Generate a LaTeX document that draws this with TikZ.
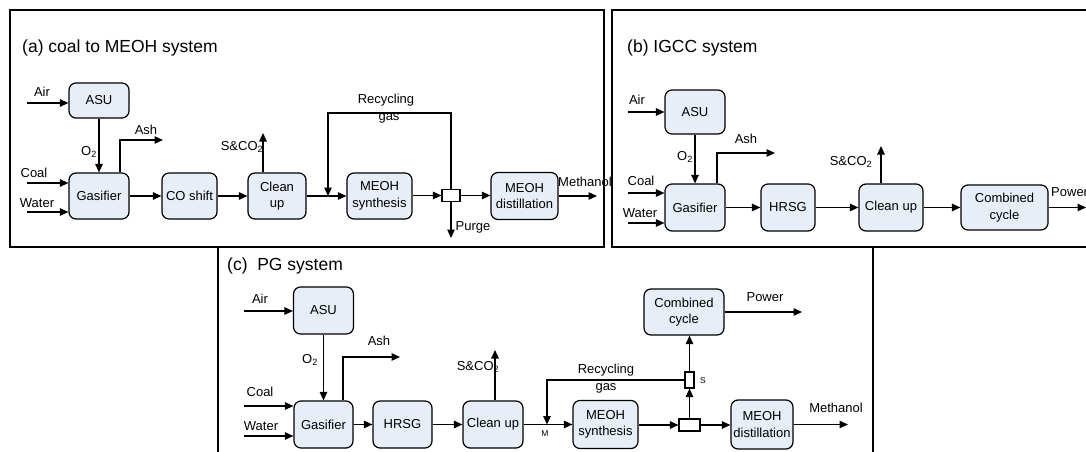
\documentclass[tikz,border=0pt]{standalone}
\usepackage{fontspec}
\setmainfont{Liberation Sans}
\usetikzlibrary{arrows.meta}
\definecolor{boxfill}{HTML}{E8EEF7}
\tikzset{
  pbox/.style={draw, rounded corners=7pt, fill=boxfill, line width=1.2pt, align=center,
     font=\fontsize{13}{16.5}\selectfont, inner sep=0pt},
  splitbox/.style={draw, fill=white, line width=1.1pt, inner sep=0pt},
  arr/.style={line width=1.1pt, -{Triangle[length=8.5pt,width=7.5pt]}},
  lbl/.style={font=\fontsize{13}{14.5}\selectfont, inner sep=0pt, align=center},
  smalllbl/.style={font=\fontsize{8.5}{9}\selectfont, inner sep=0pt},
  ttl/.style={font=\fontsize{17.5}{20}\selectfont, inner sep=0pt, anchor=west},
  frame/.style={line width=1.2pt}
}
\begin{document}
\begin{tikzpicture}[x=1pt,y=-1pt]
\useasboundingbox (0,0) rectangle (1086,452);
\clip (0,0) rectangle (1086,452);
\fill[white] (0,0) rectangle (1086,452);
% frames
\draw[frame] (10,10) rectangle (604,247);
\draw[frame] (612,10) rectangle (1100,247);
\draw[frame] (218,247) -- (218,470);
\draw[frame] (873,247) -- (873,470);

%%%%%%%%%%%%%%%% (a)
\node[ttl] (aT) at (22,48) {(a) coal to MEOH system};
\node[pbox, minimum width=60pt, minimum height=35pt] (aASU) at (99,100.5) {ASU};
\node[pbox, minimum width=60pt, minimum height=46pt] (aGas) at (99,196) {Gasifier};
\node[pbox, minimum width=55pt, minimum height=46pt] (aCO) at (189.5,196) {CO shift};
\node[pbox, minimum width=58pt, minimum height=46pt] (aClean) at (277,196) {Clean\\up};
\node[pbox, minimum width=65pt, minimum height=46pt] (aSyn) at (379.5,196) {MEOH\\synthesis};
\node[splitbox, minimum width=18pt, minimum height=12pt] (aSp) at (451,195.5) {};
\node[pbox, minimum width=67pt, minimum height=47pt] (aDist) at (524.5,196) {MEOH\\distillation};

\coordinate (aAirIn) at (27,103);
\coordinate (aCoalIn) at (27,183);
\coordinate (aWaterIn) at (27,212);
\coordinate (aAshOut) at (163,140);
\coordinate (aSOut) at (263,133);
\coordinate (aMix) at (328,196);
\coordinate (aRecTop) at (451,113);
\coordinate (aPurge) at (451,238);
\coordinate (aMeOut) at (597,196);

\draw[arr] (aAirIn) -- (aAirIn -| aASU.west);
\draw[arr] (aCoalIn) -- (aCoalIn -| aGas.west);
\draw[arr] (aWaterIn) -- (aWaterIn -| aGas.west);
\draw[arr] (aASU) -- (aGas);
\draw[arr] (aGas.north -| 120,0) |- (aAshOut);
\draw[arr] (aGas) -- (aCO);
\draw[arr] (aCO) -- (aClean);
\draw[arr] (aClean.north -| aSOut) -- (aSOut);
\draw[arr] (aClean) -- (aSyn);
\draw[arr] (aSp.north) -- (aRecTop) -| (aMix);
\draw[arr] (aSp.south) -- (aPurge);
\draw[arr] (aSyn.east |- aSp) -- (aSp.west);
\draw[arr] (aSp.east) -- (aSp.east -| aDist.west);
\draw[arr] (aDist) -- (aMeOut);

\node[lbl] (aLAir) at (42,92) {Air};
\node[lbl] (aLO2) at (89,152) {O\textsubscript{2}};
\node[lbl] (aLAsh) at (146,130) {Ash};
\node[lbl] (aLCoal) at (34,173) {Coal};
\node[lbl] (aLWater) at (37,203) {Water};
\node[lbl] (aLS) at (242,147) {S\&CO\textsubscript{2}};
\node[lbl] (aLRec) at (386,100) {Recycling};
\node[lbl] (aLGas) at (389,118) {gas};
\node[lbl] (aLPurge) at (473,227) {Purge};
\node[lbl, anchor=west] (aLMe) at (558,182) {Methanol};
\draw[frame] (604,160) -- (604,200);

%%%%%%%%%%%%%%%% (b)
\node[ttl] (bT) at (627,48) {(b) IGCC system};
\node[pbox, minimum width=60pt, minimum height=44pt] (bASU) at (695,112) {ASU};
\node[pbox, minimum width=60pt, minimum height=47pt] (bGas) at (695,207.5) {Gasifier};
\node[pbox, minimum width=54pt, minimum height=47pt] (bHRSG) at (788,207.5) {HRSG};
\node[pbox, minimum width=64pt, minimum height=47pt] (bClean) at (891,207.5) {Clean up};
\node[pbox, minimum width=87pt, minimum height=45pt] (bCC) at (1004.5,207.5) {Combined\\cycle};

\coordinate (bAirIn) at (628,112);
\coordinate (bCoalIn) at (628,193);
\coordinate (bWaterIn) at (628,223);
\coordinate (bAshOut) at (775,153);
\coordinate (bSOut) at (881,146);
\coordinate (bPower) at (1086,207.5);

\draw[arr] (bAirIn) -- (bAirIn -| bASU.west);
\draw[arr] (bCoalIn) -- (bCoalIn -| bGas.west);
\draw[arr] (bWaterIn) -- (bWaterIn -| bGas.west);
\draw[arr] (bASU) -- (bGas);
\draw[arr] (bGas.north -| 717,0) |- (bAshOut);
\draw[arr] (bGas) -- (bHRSG);
\draw[arr] (bHRSG) -- (bClean);
\draw[arr] (bClean.north -| bSOut) -- (bSOut);
\draw[arr] (bClean) -- (bCC);
\draw[arr] (bCC) -- (bPower);

\node[lbl] (bLAir) at (637,100) {Air};
\node[lbl] (bLO2) at (685,157) {O\textsubscript{2}};
\node[lbl] (bLAsh) at (746,139) {Ash};
\node[lbl] (bLCoal) at (641,181) {Coal};
\node[lbl] (bLWater) at (640,213) {Water};
\node[lbl] (bLS) at (851,162) {S\&CO\textsubscript{2}};
\node[lbl, anchor=west] (bLPower) at (1051,192) {Power};

%%%%%%%%%%%%%%%% (c)
\node[ttl] (cT) at (227,266) {(c)\ \ PG system};
\node[pbox, minimum width=60pt, minimum height=47pt] (cASU) at (323.5,310.5) {ASU};
\node[pbox, minimum width=59pt, minimum height=47pt] (cGas) at (323.5,424.5) {Gasifier};
\node[pbox, minimum width=59pt, minimum height=47pt] (cHRSG) at (402.5,424.5) {HRSG};
\node[pbox, minimum width=60pt, minimum height=47pt] (cClean) at (493,424.5) {Clean up};
\node[pbox, minimum width=65pt, minimum height=48pt] (cSyn) at (605.5,424.5) {MEOH\\synthesis};
\node[splitbox, minimum width=21pt, minimum height=12pt] (cSp) at (689.5,425) {};
\node[splitbox, minimum width=9pt, minimum height=16pt] (cS) at (689.5,380) {};
\node[pbox, minimum width=62pt, minimum height=49pt] (cDist) at (762,424.5) {MEOH\\distillation};
\node[pbox, minimum width=80pt, minimum height=46pt] (cCC) at (684,312) {Combined\\cycle};

\coordinate (cAirIn) at (244,311);
\coordinate (cCoalIn) at (244,406);
\coordinate (cWaterIn) at (244,436);
\coordinate (cAshOut) at (400,357);
\coordinate (cSOut) at (495,350);
\coordinate (cMix) at (547,424.5);
\coordinate (cMeOut) at (848,424.5);
\coordinate (cPower) at (802,312);

\draw[arr] (cAirIn) -- (cAirIn -| cASU.west);
\draw[arr] (cCoalIn) -- (cCoalIn -| cGas.west);
\draw[arr] (cWaterIn) -- (cWaterIn -| cGas.west);
\draw[arr] (cASU) -- (cGas);
\draw[arr] (cGas.north -| 343,0) |- (cAshOut);
\draw[arr] (cGas) -- (cHRSG);
\draw[arr] (cHRSG) -- (cClean);
\draw[arr] (cClean.north -| cSOut) -- (cSOut);
\draw[arr] (cClean) -- (cSyn);
\draw[arr] (cS.west) -| (cMix);
\draw[arr] (cSyn.east |- cSp) -- (cSp.west);
\draw[arr] (cSp.east) -- (cSp.east -| cDist.west);
\draw[arr] (cDist) -- (cMeOut);
\draw[arr] (cSp.north) -- (cS.south);
\draw[arr] (cS.north) -- (cS.north |- cCC.south);
\draw[arr] (cCC) -- (cPower);

\node[lbl] (cLAir) at (260,299) {Air};
\node[lbl] (cLO2) at (310,360) {O\textsubscript{2}};
\node[lbl] (cLAsh) at (379,341) {Ash};
\node[lbl] (cLCoal) at (260,392) {Coal};
\node[lbl] (cLWater) at (261,426) {Water};
\node[lbl] (cLS) at (478,367) {S\&CO\textsubscript{2}};
\node[lbl] (cLRec) at (606,370) {Recycling};
\node[lbl] (cLGas) at (606,388) {gas};
\node[smalllbl] (cLM) at (545,434) {M};
\node[smalllbl] (cLSs) at (703,381) {S};
\node[lbl] (cLPower) at (765,297) {Power};
\node[lbl] (cLMe) at (836,408) {Methanol};
\end{tikzpicture}
\end{document}
